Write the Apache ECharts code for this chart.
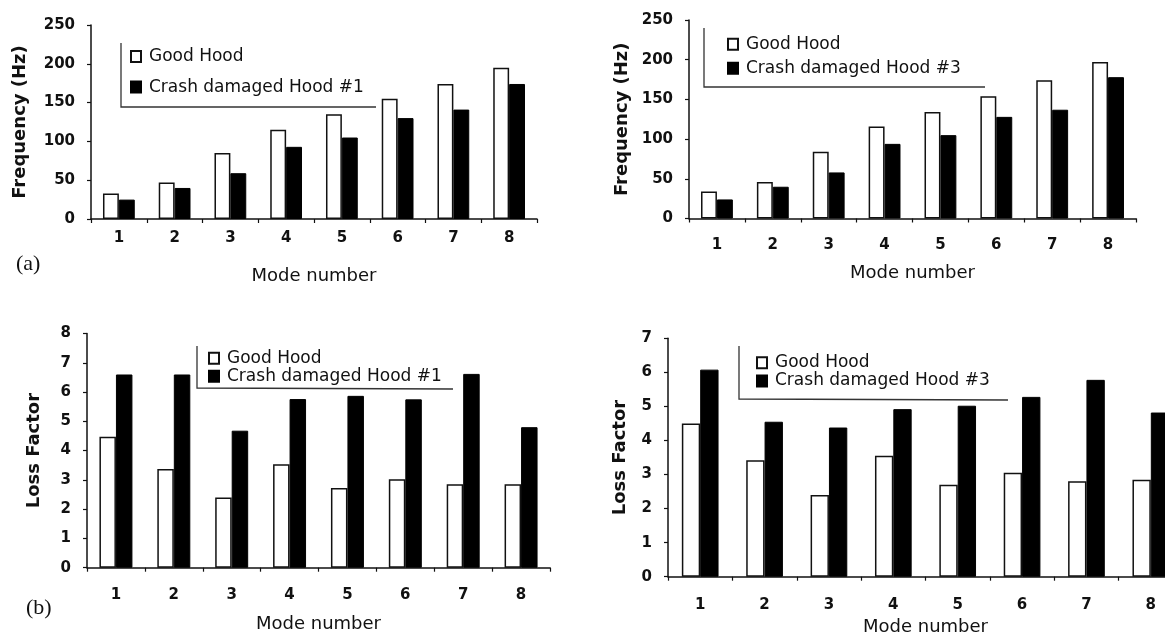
<!DOCTYPE html>
<html>
<head>
<meta charset="utf-8">
<title>Hood modal frequencies and loss factors</title>
<script src="https://cdn.jsdelivr.net/npm/echarts@6/dist/echarts.min.js"></script>
<style>
  html, body { margin: 0; padding: 0; background: #fff; }
  #chart { width: 1165px; height: 634px; }
</style>
</head>
<body>
<div id="chart"></div>
<script>
// Mode numbers shared by every panel
const modes = ['1', '2', '3', '4', '5', '6', '7', '8'];

// Natural frequencies (Hz)
const freqGoodA = [33, 47, 85, 115, 135, 155, 174, 195];
const freqCrash1 = [25, 40, 59, 93, 105, 130, 141, 174];
const freqGoodB = [34, 46, 84, 116, 134, 154, 174, 197];
const freqCrash3 = [24, 40, 58, 94, 105, 128, 137, 178];

// Loss factors
const lossGoodA = [4.47, 3.37, 2.4, 3.53, 2.72, 3.02, 2.85, 2.85];
const lossCrash1 = [6.6, 6.6, 4.68, 5.76, 5.87, 5.75, 6.62, 4.8];
const lossGoodB = [4.5, 3.42, 2.4, 3.55, 2.7, 3.05, 2.8, 2.85];
const lossCrash3 = [6.08, 4.55, 4.38, 4.92, 5.02, 5.28, 5.78, 4.82];

// Axis ranges
const freqMax = 250, freqStep = 50;
const lossMaxA = 8, lossMaxB = 7, lossStep = 1;

const GOOD = 'Good Hood';
const CRASH1 = 'Crash damaged Hood #1';
const CRASH3 = 'Crash damaged Hood #3';

const INK = '#111';
const FONT = 'DejaVu Sans';

const panels = [
  { grid: { left: 91, top: 25, width: 446, height: 194 }, yMax: freqMax, yStep: freqStep,
    yName: 'Frequency (Hz)', yNameGap: 62, xLabelMargin: 12, xNameGap: 48,
    good: freqGoodA, crash: freqCrash1, crashName: CRASH1 },
  { grid: { left: 689, top: 20, width: 447, height: 198.5 }, yMax: freqMax, yStep: freqStep,
    yName: 'Frequency (Hz)', yNameGap: 58, xLabelMargin: 19, xNameGap: 46,
    good: freqGoodB, crash: freqCrash3, crashName: CRASH3 },
  { grid: { left: 87, top: 333.5, width: 463, height: 234.2 }, yMax: lossMaxA, yStep: lossStep,
    yName: 'Loss Factor', yNameGap: 44, xLabelMargin: 20, xNameGap: 48,
    good: lossGoodA, crash: lossCrash1, crashName: CRASH1 },
  { grid: { left: 668, top: 338.3, width: 515, height: 238.4 }, yMax: lossMaxB, yStep: lossStep,
    yName: 'Loss Factor', yNameGap: 39, xLabelMargin: 21, xNameGap: 42,
    good: lossGoodB, crash: lossCrash3, crashName: CRASH3 }
];

const axisLine = { show: true, lineStyle: { color: INK, width: 1.5 } };
const axisTick = { show: true, length: 4, lineStyle: { color: INK, width: 1.2 } };

const grids = [], xAxes = [], yAxes = [], series = [];
panels.forEach((p, i) => {
  grids.push(Object.assign({ containLabel: false, outerBoundsMode: 'none' }, p.grid));
  xAxes.push({
    type: 'category', gridIndex: i, data: modes,
    axisLine, axisTick: Object.assign({ alignWithLabel: false }, axisTick),
    axisLabel: { color: INK, fontFamily: FONT, fontWeight: 'bold', fontSize: 15, margin: p.xLabelMargin },
    name: 'Mode number', nameLocation: 'middle', nameGap: p.xNameGap,
    nameTextStyle: { color: INK, fontFamily: FONT, fontSize: 18 },
    splitLine: { show: false }
  });
  yAxes.push({
    type: 'value', gridIndex: i, min: 0, max: p.yMax, interval: p.yStep,
    axisLine, axisTick,
    axisLabel: { color: INK, fontFamily: FONT, fontWeight: 'bold', fontSize: 15, margin: 16 },
    name: p.yName, nameLocation: 'middle', nameGap: p.yNameGap,
    nameTextStyle: { color: INK, fontFamily: FONT, fontWeight: 'bold', fontSize: 18 },
    splitLine: { show: false }
  });
  series.push({
    type: 'bar', name: GOOD, xAxisIndex: i, yAxisIndex: i, data: p.good,
    barGap: '0%', barCategoryGap: '43%',
    itemStyle: { color: '#fff', borderColor: INK, borderWidth: 1.5 },
    emphasis: { disabled: true }, animation: false
  });
  series.push({
    type: 'bar', name: p.crashName, xAxisIndex: i, yAxisIndex: i, data: p.crash,
    barGap: '0%', barCategoryGap: '43%',
    itemStyle: { color: '#000', borderColor: '#000', borderWidth: 1 },
    emphasis: { disabled: true }, animation: false
  });
});

// Legend placement per panel: icon left edge, first row top, row gap
const legendSpots = [
  { left: 130, top: 46.5, lineHeight: 20, gap: 10.6, crashName: CRASH1 },
  { left: 727, top: 34.3, lineHeight: 20, gap: 4, crashName: CRASH3 },
  { left: 208, top: 349.3, lineHeight: 18, gap: 0, crashName: CRASH1 },
  { left: 756, top: 353.7, lineHeight: 18, gap: 0.3, crashName: CRASH3 }
];
const legends = legendSpots.map(s => ({
  orient: 'vertical', left: s.left, top: s.top, padding: 0,
  itemGap: s.gap, itemWidth: 10, itemHeight: 11, icon: 'rect',
  selectedMode: false,
  data: [GOOD, s.crashName],
  textStyle: { color: INK, fontFamily: FONT, fontSize: 17, lineHeight: s.lineHeight, padding: [0, 0, 0, 3] }
}));

// Open frames around the legends
const frameStyle = { stroke: '#333', lineWidth: 1.3, fill: null };
const frames = [
  [[121, 43], [121, 107], [376, 107]],
  [[704, 28], [704, 87], [985, 87]],
  [[197, 346], [197, 388], [453, 389]],
  [[739, 346], [739, 399], [1008, 400]]
].map(pts => ({ type: 'polyline', shape: { points: pts }, style: frameStyle, silent: true }));

const partLabels = [
  { type: 'text', left: 16, top: 253, style: { text: '(a)', font: '22px "Liberation Serif"', fill: INK } },
  { type: 'text', left: 26, top: 597, style: { text: '(b)', font: '22px "Liberation Serif"', fill: INK } }
];

const chart = echarts.init(document.getElementById('chart'), null, { renderer: 'canvas' });
chart.setOption({
  animation: false,
  backgroundColor: '#fff',
  grid: grids,
  xAxis: xAxes,
  yAxis: yAxes,
  legend: legends,
  series: series,
  graphic: frames.concat(partLabels)
});
</script>
</body>
</html>
